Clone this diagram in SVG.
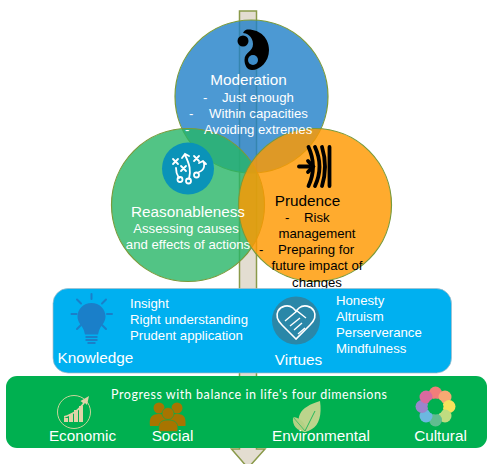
<svg xmlns="http://www.w3.org/2000/svg" width="487" height="464" viewBox="0 0 487 464">
<style>
text{font-family:"Liberation Sans",Arial,sans-serif;fill:#fff}
.b{fill:#000}
.t15{font-size:15.300px}.t13{font-size:13.200px}
.c{stroke:#7a9a3a;stroke-width:1.200}
.m{text-anchor:middle}
</style>
<rect width="487" height="464" fill="#fff"/>
<g id="connectors">
<path d="M239.500 11H256.500V449H265L248 468L231.500 449H239.500Z" fill="#e3ddd1" stroke="#8a9a4a" stroke-width="1.500"/>
</g>
<g id="moderation">
<circle class="c" cx="251.500" cy="96.500" r="76.500" fill="#1f7fc8" fill-opacity=".8"/>
<path d="M247 29.500C260 29 269 38 269 50C269 62 260 70 252 70C247 70 244.500 65 244.500 60C244.500 52 253 52 253 44C253 36 246 33 243 33C244 31 245 30 247 29.500Z" fill="#000"/>
<circle cx="243" cy="41" r="5.500" fill="#000"/>
<circle cx="253" cy="60" r="5" fill="#3d8cc9"/>
</g>
<g id="reasonableness">
<circle class="c" cx="188" cy="205" r="76.500" fill="#27b567" fill-opacity=".8"/>
<circle cx="188" cy="168.500" r="26" fill="#0a93b8"/>
<g fill="none" stroke="#fff" stroke-width="1.800" stroke-linecap="round">
<path d="M173 159l5 5m0-5l-5 5M181 166l5 5m0-5l-5 5M194 156l5 5m0-5l-5 5"/>
<path d="M176 168c0 6 1 7 3 10M189 179c2-8 1-14-4-24M182 158l3-4 4 2M199 172c6-2 6-8 4-11M199 163l4-2 3 3"/>
<circle cx="180" cy="179.500" r="2.500"/><circle cx="188.500" cy="181" r="2.500"/><circle cx="196.500" cy="175" r="2.500"/>
</g>
</g>
<g id="prudence">
<circle class="c" cx="315" cy="205" r="76.500" fill="#ff9800" fill-opacity=".82"/>
<g fill="none" stroke="#000" stroke-linecap="round" stroke-width="3.800">
<path d="M299 166.500H309"/>
<path d="M308 161l5 5.500-5 5.500"/>
<path d="M308.500 147c6 13 6 26 0 39"/>
<path d="M315 147c6 13 6 26 0 39"/>
<path d="M322 147c4 13 4 26 0 39"/>
<path d="M329.500 147V186"/>
</g>
</g>
<g id="moderation-label">
<text class="m t15" x="248.500" y="85">Moderation</text>
<text class="t13" x="203" y="101.500">-</text><text class="t13" x="222" y="101.500">Just enough</text>
<text class="t13" x="189" y="118">-</text><text class="t13" x="209" y="118">Within capacities</text>
<text class="t13" x="185" y="134">-</text><text class="t13" x="204" y="134">Avoiding extremes</text>
</g>
<g id="reasonableness-label">
<text class="m t15" x="188" y="216.500">Reasonableness</text>
<text class="m t13" x="186" y="233">Assessing causes</text>
<text class="m t13" x="188" y="249">and effects of actions</text>
</g>
<g id="prudence-label">
<text class="m t15 b" x="307.500" y="206">Prudence</text>
<text class="t13 b" x="285" y="222">-</text><text class="t13 b" x="304" y="222">Risk</text>
<text class="m t13 b" x="317" y="238">management</text>
<text class="t13 b" x="259" y="254">-</text><text class="t13 b" x="278" y="254">Preparing for</text>
<text class="m t13 b" x="317" y="270">future impact of</text>
<text class="m t13 b" x="317" y="287">changes</text>
</g>
<g id="knowledge-virtues">
<rect x="53" y="288.500" width="398.500" height="84.500" rx="15" fill="#00b0f0" stroke="#a9bcc6" stroke-width=".7"/>
<g id="knowledge">
<g fill="#1a7fc9">
<path d="M91.500 303c-8 0-14 6-14 13.500 0 6 4 8 6 13 1 2 1 4 1.500 5h13c.5-1 .5-3 1.500-5 2-5 6-7 6-13 0-7.500-6-13.500-14-13.500Z"/>
<rect x="85.500" y="336" width="12" height="2"/><rect x="85.500" y="339" width="12" height="2"/><rect x="87.500" y="342" width="8" height="2"/>
</g>
<g stroke="#1a7fc9" stroke-width="2" stroke-linecap="round"><path d="M91.500 294v5M77 299.500l4 4M106 299.500l-4 4M71.500 314h5M107 314h5M77 329l4-4M106 329l-4-4"/></g>
<text class="t13" x="130" y="308">Insight</text>
<text class="t13" x="130" y="324">Right understanding</text>
<text class="t13" x="130" y="340">Prudent application</text>
<text class="t15" x="57.500" y="363">Knowledge</text>
</g>
<g id="virtues">
<circle cx="296" cy="320.500" r="24" fill="#2a87a8"/>
<path d="M296 339l-14-14c-5-5-6-10-4-14 3-5 10-7 15-3l3 3 3-3c5-4 12-2 15 3 2 4 1 9-4 14Z" fill="none" stroke="#fff" stroke-width="1.600"/>
<path d="M285 321l12-10 9 7M290 326l10-8M294 330l8-7M298 334l7-6" fill="none" stroke="#fff" stroke-width="1.400"/>
<text class="m t15" x="298.500" y="364.500">Virtues</text>
<text class="t13" x="336" y="305">Honesty</text>
<text class="t13" x="336" y="321">Altruism</text>
<text class="t13" x="336" y="337">Perserverance</text>
<text class="t13" x="336" y="353">Mindfulness</text>
</g>
</g>
<g id="dimensions">
<rect x="6" y="376" width="481" height="72" rx="11" fill="#00b050"/>
<text style='font-family:"Lato",sans-serif;letter-spacing:.55px' font-size="12.500" x="111" y="399">Progress with balance in life's four dimensions</text>
<g id="economic">
<circle cx="74" cy="412" r="16.500" fill="none" stroke="#c9d49a" stroke-width="1"/>
<path d="M64 422h4v-4h-4ZM69 422h4v-8h-4ZM74 422h4v-12h-4ZM79 422h4v-16h-4Z" fill="#e0d3a8"/>
<path d="M64 416c8-2 13-6 19-13l-2.500-2 8.500-5-2 9-2-2c-6 8-12 12-21 15Z" fill="#e0d3a8"/>
<text class="m t15" x="82.500" y="441">Economic</text>
</g>
<g id="social">
<g fill="#a87400">
<circle cx="159" cy="408" r="5.500"/><circle cx="177" cy="408" r="5.500"/>
<path d="M150 426c-1-8 1-12 9-12s10 4 10 12ZM167 426c0-8 2-12 10-12s9 4 8.500 12Z"/>
<circle cx="168" cy="413.500" r="6" stroke="#00b050" stroke-width=".6"/>
<path d="M159 431.500c-1-8 1-11.500 9-11.500s11 3.500 9.500 11.500Z" stroke="#00b050" stroke-width=".6"/>
</g>
<text class="m t15" x="172.500" y="441">Social</text>
</g>
<g id="environmental">
<path d="M320 401c2 14-1 24-8 28-3 2-6 3-8 3-5-5-7-12-4-18 3-6 10-10 20-13Z" fill="#bcd48c"/>
<path d="M293 417c8 1 13 6 13 15-9-1-14-6-13-15Z" fill="#b4d084"/>
<path d="M305 431l10-20" stroke="#00b050" stroke-width=".8" fill="none"/>
<path d="M293 417l12 14" stroke="#00b050" stroke-width=".6" fill="none"/>
<text class="m t15" x="321" y="441">Environmental</text>
</g>
<g id="cultural">
<circle cx="435.500" cy="393" r="6.500" fill="#f17e7a"/>
<circle cx="445" cy="397" r="6.500" fill="#f7a973"/>
<circle cx="449" cy="406.500" r="6.500" fill="#f8e25c"/>
<circle cx="445" cy="416" r="6.500" fill="#bfdc80"/>
<circle cx="435.500" cy="420" r="6.500" fill="#60bd90"/>
<circle cx="426" cy="416" r="6.500" fill="#6cb8e0"/>
<circle cx="422" cy="406.500" r="6.500" fill="#9a85cc"/>
<circle cx="426" cy="397" r="6.500" fill="#d9699f"/>
<circle cx="435.500" cy="406.500" r="8" fill="#00b050"/>
<text class="m t15" x="440.500" y="441">Cultural</text>
</g>
</g>
</svg>
